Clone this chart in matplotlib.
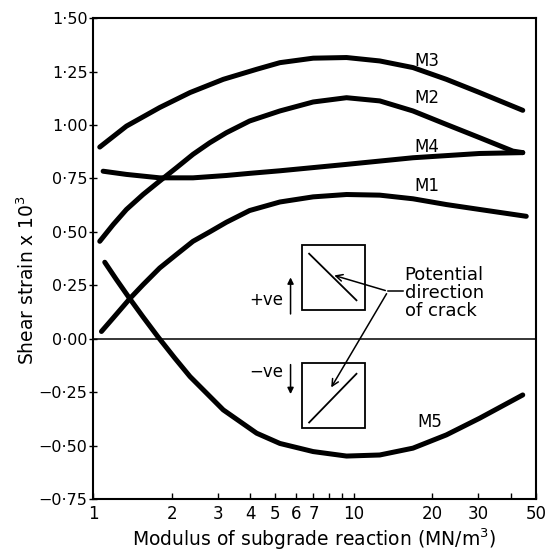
import numpy as np
import matplotlib
matplotlib.use("Agg")
import matplotlib.pyplot as plt
from matplotlib.ticker import FixedLocator, FixedFormatter, NullLocator

# curves (x: modulus MN/m3, y: shear strain x 10^3)
m3_x = [1.06, 1.342, 1.80, 2.353, 3.157, 4.239, 5.206, 6.984, 9.38, 12.58, 16.87, 22.66, 30.4, 44.5]
m3_y = [0.897, 0.995, 1.082, 1.152, 1.214, 1.261, 1.292, 1.313, 1.316, 1.300, 1.269, 1.214, 1.152, 1.069]

m2_x = [1.06, 1.193, 1.342, 1.554, 1.80, 2.086, 2.416, 2.80, 3.243, 3.984, 5.206, 6.984, 9.38,
        12.58, 16.87, 22.66, 30.4, 40.8, 44.5]
m2_y = [0.456, 0.534, 0.605, 0.675, 0.738, 0.800, 0.863, 0.917, 0.964, 1.019, 1.066, 1.108, 1.128,
        1.113, 1.066, 1.003, 0.941, 0.878, 0.871]

m4_x = [1.092, 1.342, 1.80, 2.416, 3.243, 3.984, 5.206, 9.38, 16.87, 30.4, 44.5]
m4_y = [0.784, 0.769, 0.753, 0.753, 0.764, 0.774, 0.786, 0.816, 0.847, 0.867, 0.871]

m1_x = [1.076, 1.193, 1.382, 1.554, 1.80, 2.086, 2.416, 2.80, 3.243, 3.984, 5.206, 6.984, 9.38,
        12.58, 16.87, 22.66, 30.4, 45.9]
m1_y = [0.034, 0.097, 0.1875, 0.253, 0.331, 0.394, 0.456, 0.50, 0.545, 0.60, 0.640, 0.664, 0.675,
        0.672, 0.655, 0.628, 0.605, 0.573]

m5_x = [1.108, 1.228, 1.382, 1.554, 1.775, 2.055, 2.353, 3.157, 4.239, 5.206, 6.984, 9.38, 12.58,
        16.87, 22.66, 30.4, 44.5]
m5_y = [0.358, 0.277, 0.1875, 0.102, 0.008, -0.090, -0.177, -0.333, -0.442, -0.490, -0.528, -0.549,
        -0.544, -0.512, -0.450, -0.372, -0.263]

curve_names = ["M3", "M2", "M4", "M1", "M5"]
label_pos = [(19.0, 1.30), (19.0, 1.128), (19.0, 0.899), (19.0, 0.714), (19.5, -0.388)]

x_ticks = [1, 2, 3, 4, 5, 6, 7, 8, 9, 10, 20, 30, 40, 50]
x_labels = ["1", "2", "3", "4", "5", "6", "7", "", "", "10", "20", "30", "", "50"]
y_ticks = [-0.75, -0.5, -0.25, 0, 0.25, 0.5, 0.75, 1.0, 1.25, 1.5]
y_labels = ["\u22120\u00b775", "\u22120\u00b750", "\u22120\u00b725", "0\u00b700", "0\u00b725",
            "0\u00b750", "0\u00b775", "1\u00b700", "1\u00b725", "1\u00b750"]

plt.rcParams['font.family'] = ['DejaVu Sans']

fig = plt.figure(figsize=(5.48, 5.52), dpi=100)
ax = fig.add_axes([0.170, 0.096, 0.808, 0.871])

for xs, ys in [(m3_x, m3_y), (m2_x, m2_y), (m4_x, m4_y), (m1_x, m1_y), (m5_x, m5_y)]:
    ax.plot(xs, ys, color="black", lw=3.6, solid_capstyle="round", solid_joinstyle="round")

for name, (lx, ly) in zip(curve_names, label_pos):
    ax.text(lx, ly, name, ha="center", va="center", fontsize=12)

ax.axhline(0, color="black", lw=1.1)

ax.set_xscale("log")
ax.set_xlim(1, 50)
ax.set_ylim(-0.75, 1.5)
ax.xaxis.set_major_locator(FixedLocator(x_ticks))
ax.xaxis.set_major_formatter(FixedFormatter(x_labels))
ax.xaxis.set_minor_locator(NullLocator())
ax.yaxis.set_major_locator(FixedLocator(y_ticks))
ax.yaxis.set_major_formatter(FixedFormatter(y_labels))
ax.tick_params(axis="x", direction="in", length=4, width=1, labelsize=12, pad=4)
ax.tick_params(axis="y", direction="inout", length=6, width=1, labelsize=11.5, pad=1)
for s in ax.spines.values():
    s.set_linewidth(1.5)

ax.set_xlabel("Modulus of subgrade reaction (MN/m$^3$)", fontsize=13.5, labelpad=3)
ax.set_ylabel("Shear strain x 10$^3$", fontsize=13.5, labelpad=6)
ax.yaxis.set_label_coords(-0.125, 0.455)

# inset sketches of crack direction
box_kw = dict(fill=False, lw=1.3, ec="black")
ax.add_patch(plt.Rectangle((6.32, 0.136), 11.0 - 6.32, 0.44 - 0.136, **box_kw))
ax.add_patch(plt.Rectangle((6.32, -0.42), 11.0 - 6.32, -0.113 + 0.42, **box_kw))
ax.plot([6.74, 10.24], [0.398, 0.18], color="black", lw=1.3)
ax.plot([6.74, 10.24], [-0.392, -0.164], color="black", lw=1.3)

ax.plot([15.4, 13.53], [0.222, 0.222], color="black", lw=1.1)
ax.annotate("", xy=(8.22, 0.30), xytext=(13.53, 0.222),
            arrowprops=dict(arrowstyle="->", lw=1.1, color="black", mutation_scale=12))
ax.annotate("", xy=(8.09, -0.239), xytext=(13.53, 0.222),
            arrowprops=dict(arrowstyle="->", lw=1.1, color="black", mutation_scale=12))
ax.text(15.68, 0.216, "Potential\ndirection\nof crack", ha="left", va="center",
        fontsize=13, linespacing=1.0)

ax.text(5.35, 0.183, "+ve", ha="right", va="center", fontsize=12)
ax.text(5.35, -0.155, "\u2212ve", ha="right", va="center", fontsize=12)
ax.annotate("", xy=(5.72, 0.30), xytext=(5.72, 0.103),
            arrowprops=dict(arrowstyle="-|>", lw=1.1, color="black", mutation_scale=9))
ax.annotate("", xy=(5.72, -0.272), xytext=(5.72, -0.108),
            arrowprops=dict(arrowstyle="-|>", lw=1.1, color="black", mutation_scale=9))

fig.savefig("out.png", dpi=100)
